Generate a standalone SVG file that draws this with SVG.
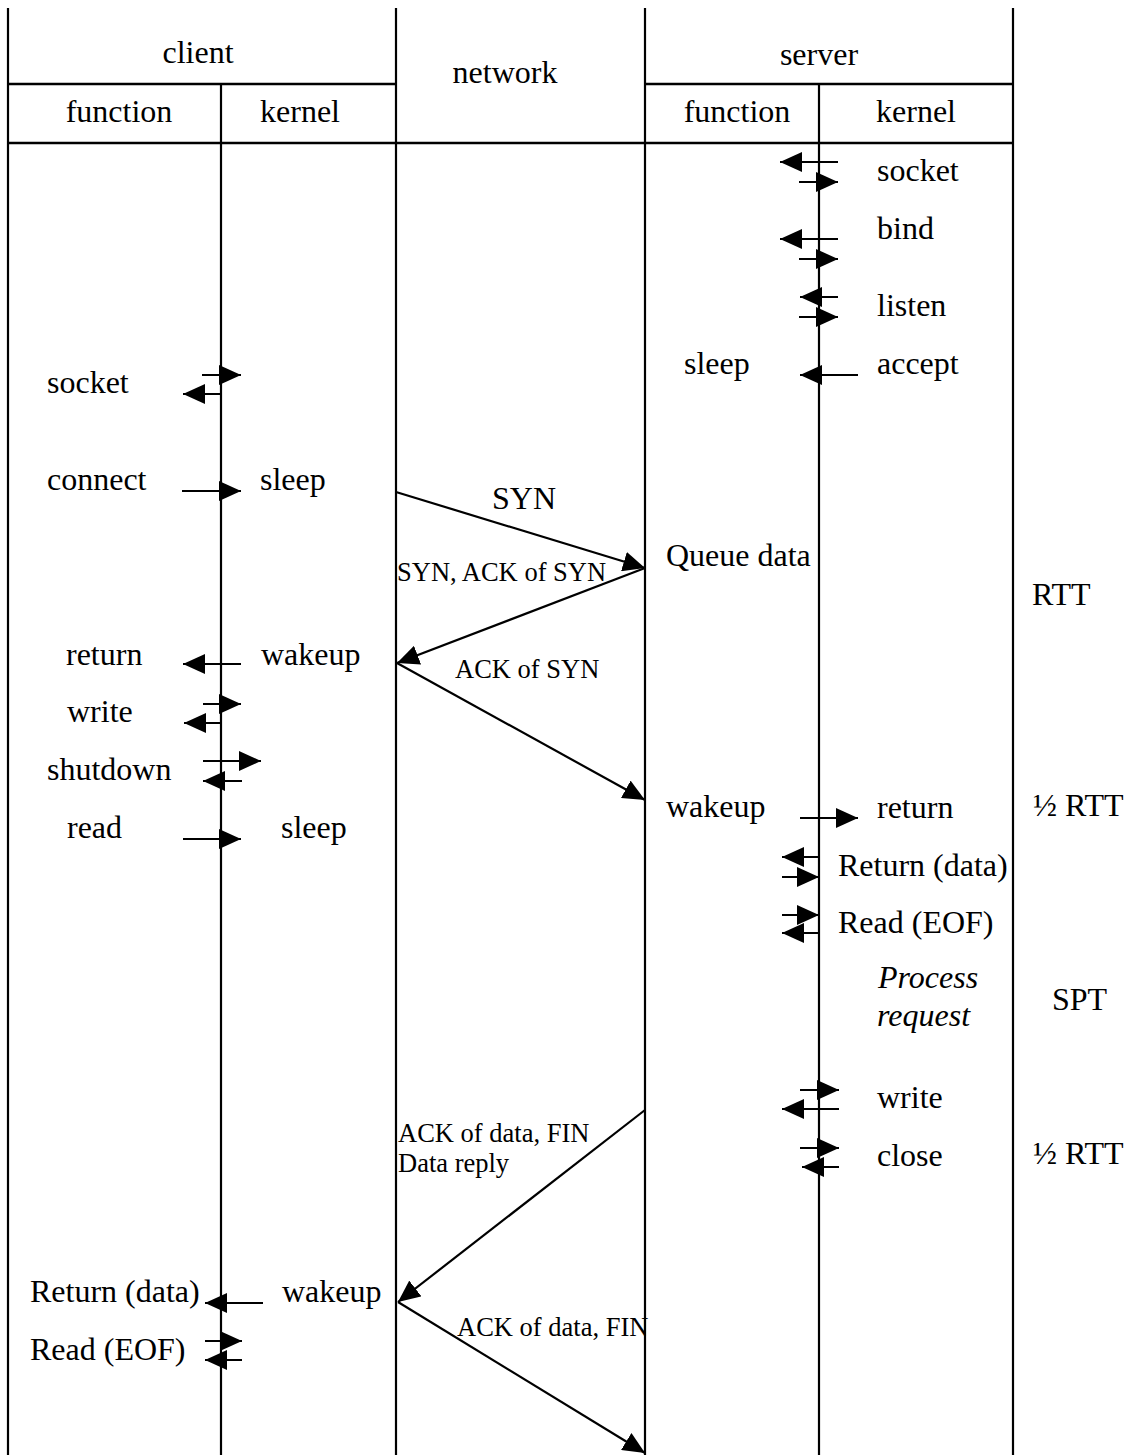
<svg xmlns="http://www.w3.org/2000/svg" width="1136" height="1455" viewBox="0 0 1136 1455">
<defs>
<marker id="ah" viewBox="0 0 22 20" refX="22" refY="10" markerWidth="22" markerHeight="20" orient="auto" markerUnits="userSpaceOnUse">
<path d="M0,0 L22,10 L0,20 z" fill="#000"/>
</marker>
<style>
.ln{stroke:#000;stroke-width:2.2;fill:none}
.hd{stroke:#000;stroke-width:2.6;fill:none}
.ar{stroke:#000;stroke-width:2.2;fill:none;marker-end:url(#ah)}
text{font-family:"Liberation Serif","Times New Roman",serif;font-size:32px;fill:#000}
.sm{font-size:26.5px}
.it{font-style:italic}
.c{text-anchor:middle}
</style>
</defs>
<rect width="1136" height="1455" fill="#fff"/>
<g id="lanes">
<line class="ln" x1="8" y1="8" x2="8" y2="1455"/>
<line class="ln" x1="221" y1="84" x2="221" y2="1455"/>
<line class="ln" x1="396" y1="8" x2="396" y2="1455"/>
<line class="ln" x1="645" y1="8" x2="645" y2="1455"/>
<line class="ln" x1="819" y1="84" x2="819" y2="1455"/>
<line class="ln" x1="1013" y1="8" x2="1013" y2="1455"/>
<line class="hd" x1="8" y1="84" x2="396" y2="84"/>
<line class="hd" x1="645" y1="84" x2="1013" y2="84"/>
<line class="hd" x1="8" y1="143" x2="1013" y2="143"/>
</g>
<g id="header">
<text class="c" x="198" y="63">client</text>
<text class="c" x="505" y="83">network</text>
<text class="c" x="819" y="65">server</text>
<text class="c" x="119" y="122">function</text>
<text class="c" x="300" y="122">kernel</text>
<text class="c" x="737" y="122">function</text>
<text class="c" x="916" y="122">kernel</text>
</g>
<g id="server-labels">
<text x="877" y="181">socket</text>
<text x="877" y="239">bind</text>
<text x="877" y="316">listen</text>
<text x="877" y="374">accept</text>
<text x="684" y="374">sleep</text>
<text x="666" y="566">Queue data</text>
<text x="666" y="817">wakeup</text>
<text x="877" y="818">return</text>
<text x="838" y="876">Return (data)</text>
<text x="838" y="933">Read (EOF)</text>
<text class="it" x="878" y="988">Process</text>
<text class="it" x="877" y="1026">request</text>
<text x="877" y="1108">write</text>
<text x="877" y="1166">close</text>
</g>
<g id="client-labels">
<text x="47" y="393">socket</text>
<text x="47" y="490">connect</text>
<text x="260" y="490">sleep</text>
<text x="66" y="665">return</text>
<text x="261" y="665">wakeup</text>
<text x="67" y="722">write</text>
<text x="47" y="780">shutdown</text>
<text x="67" y="838">read</text>
<text x="281" y="838">sleep</text>
<text x="30" y="1302">Return (data)</text>
<text x="282" y="1302">wakeup</text>
<text x="30" y="1360">Read (EOF)</text>
</g>
<g id="network-labels">
<text x="492" y="509">SYN</text>
<text class="sm" x="397" y="581">SYN, ACK of SYN</text>
<text class="sm" x="455" y="678">ACK of SYN</text>
<text class="sm" x="398" y="1142">ACK of data, FIN</text>
<text class="sm" x="398" y="1172">Data reply</text>
<text class="sm" x="457" y="1336">ACK of data, FIN</text>
</g>
<g id="timing">
<text x="1032" y="605">RTT</text>
<text x="1033" y="816">½ RTT</text>
<text x="1052" y="1010">SPT</text>
<text x="1033" y="1164">½ RTT</text>
</g>
<g id="connectors">
<line class="ar" x1="396" y1="492" x2="645" y2="568"/>
<line class="ar" x1="645" y1="568" x2="397" y2="663"/>
<line class="ar" x1="397" y1="663" x2="645" y2="800"/>
<line class="ar" x1="645" y1="1110" x2="398" y2="1302"/>
<line class="ar" x1="398" y1="1302" x2="645" y2="1453"/>
<line class="ar" x1="838" y1="162" x2="780" y2="162"/>
<line class="ar" x1="799" y1="182" x2="838" y2="182"/>
<line class="ar" x1="838" y1="239" x2="780" y2="239"/>
<line class="ar" x1="799" y1="259" x2="838" y2="259"/>
<line class="ar" x1="838" y1="297" x2="800" y2="297"/>
<line class="ar" x1="799" y1="317" x2="838" y2="317"/>
<line class="ar" x1="858" y1="375" x2="800" y2="375"/>
<line class="ar" x1="800" y1="818" x2="858" y2="818"/>
<line class="ar" x1="819" y1="857" x2="782" y2="857"/>
<line class="ar" x1="782" y1="877" x2="819" y2="877"/>
<line class="ar" x1="782" y1="915" x2="819" y2="915"/>
<line class="ar" x1="819" y1="933" x2="782" y2="933"/>
<line class="ar" x1="800" y1="1090" x2="839" y2="1090"/>
<line class="ar" x1="839" y1="1109" x2="782" y2="1109"/>
<line class="ar" x1="800" y1="1148" x2="839" y2="1148"/>
<line class="ar" x1="839" y1="1167" x2="802" y2="1167"/>
<line class="ar" x1="202" y1="375" x2="241" y2="375"/>
<line class="ar" x1="221" y1="394" x2="183" y2="394"/>
<line class="ar" x1="182" y1="491" x2="241" y2="491"/>
<line class="ar" x1="241" y1="664" x2="183" y2="664"/>
<line class="ar" x1="203" y1="704" x2="241" y2="704"/>
<line class="ar" x1="221" y1="723" x2="184" y2="723"/>
<line class="ar" x1="203" y1="761" x2="261" y2="761"/>
<line class="ar" x1="242" y1="781" x2="203" y2="781"/>
<line class="ar" x1="183" y1="839" x2="241" y2="839"/>
<line class="ar" x1="263" y1="1303" x2="205" y2="1303"/>
<line class="ar" x1="205" y1="1341" x2="242" y2="1341"/>
<line class="ar" x1="242" y1="1360" x2="205" y2="1360"/>
</g>
</svg>
